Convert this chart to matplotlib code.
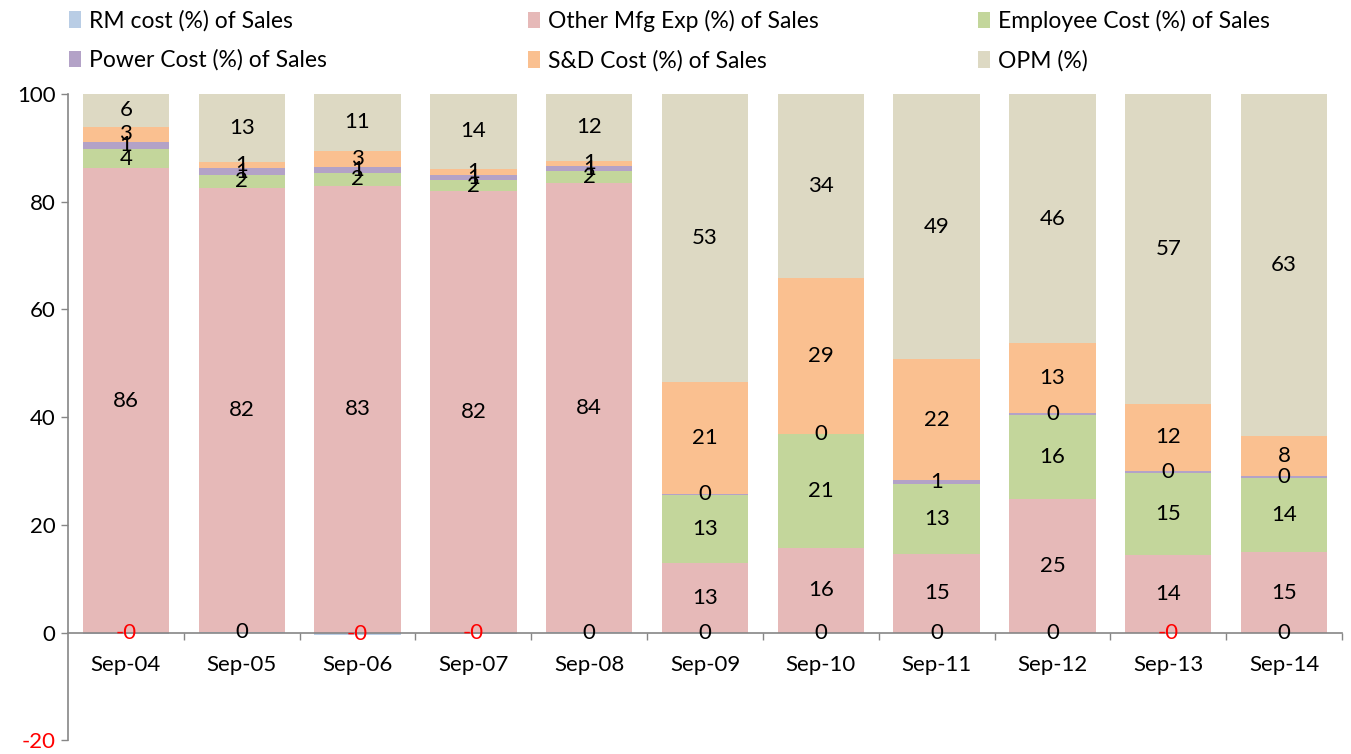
import numpy as np
import matplotlib
matplotlib.use('Agg')
from matplotlib import pyplot as plt
from matplotlib.patches import Patch

plt.rcParams['font.family'] = ['Lato', 'DejaVu Sans']
plt.rcParams['axes.unicode_minus'] = False

# years on the x axis
years = ['Sep-04', 'Sep-05', 'Sep-06', 'Sep-07', 'Sep-08', 'Sep-09',
         'Sep-10', 'Sep-11', 'Sep-12', 'Sep-13', 'Sep-14']

# cost shares, % of sales
rm_cost = [-0.2, 0.2, -0.4, -0.3, 0.05, 0.0, 0.0, 0.0, 0.0, -0.1, 0.0]
other_mfg = [86.2, 82.4, 83.0, 82.0, 83.5, 12.9, 15.8, 14.6, 24.9, 14.4, 14.9]
employee = [3.6, 2.4, 2.3, 2.0, 2.1, 12.7, 21.0, 13.0, 15.6, 15.3, 13.9]
power = [1.3, 1.2, 1.2, 0.9, 0.9, 0.1, 0.0, 0.7, 0.2, 0.4, 0.2]
sd_cost = [2.8, 1.2, 3.0, 1.2, 1.1, 20.9, 29.1, 22.5, 13.0, 12.4, 7.6]
opm = [6.1, 12.6, 10.6, 13.9, 12.4, 53.4, 34.1, 49.2, 46.3, 57.45, 63.4]

series_names = ['RM cost (%) of Sales', 'Other Mfg Exp (%) of Sales',
                'Employee Cost (%) of Sales', 'Power Cost (%) of Sales',
                'S&D Cost (%) of Sales', 'OPM (%)']
colors = ['#b9cde5', '#e6b9b8', '#c3d69b', '#b3a2c7', '#fac090', '#ddd9c3']
series = [rm_cost, other_mfg, employee, power, sd_cost, opm]

fig = plt.figure(figsize=(13.51, 7.54), dpi=100)
ax = fig.add_axes([68 / 1351, 1 - 740.4 / 754, (1342 - 68) / 1351, (740.4 - 94) / 754])

x = np.arange(len(years))
pos_bottom = np.zeros(len(years))
neg_bottom = np.zeros(len(years))
fs = 16
for vals, name, col in zip(series, series_names, colors):
    vals = np.array(vals, dtype=float)
    bottom = np.where(vals >= 0, pos_bottom, neg_bottom)
    ax.bar(x, vals, bottom=bottom, width=0.745, color=col, linewidth=0, label=name)
    for xi, b, v in zip(x, bottom, vals):
        txt = '%.0f' % v
        ax.text(xi, b + v / 2, txt, ha='center', va='center', fontsize=fs,
                color='red' if v < 0 else 'black')
    pos_bottom = np.where(vals >= 0, pos_bottom + vals, pos_bottom)
    neg_bottom = np.where(vals < 0, neg_bottom + vals, neg_bottom)

ax.set_ylim(-20, 100)
ax.set_xlim(-0.5, len(years) - 0.5)
ax.set_yticks([-20, 0, 20, 40, 60, 80, 100])
ax.tick_params(axis='y', direction='out', length=5, width=1, color='#868686',
               labelsize=fs, pad=4)
for lbl in ax.get_yticklabels():
    if lbl.get_text().startswith('-'):
        lbl.set_color('red')

ax.set_xticks(x)
ax.set_xticklabels(years)
ax.set_xticks(np.arange(0.5, len(years) - 0.5 + 1, 1), minor=True)
ax.tick_params(axis='x', which='major', length=0, labelsize=fs, pad=16)
ax.tick_params(axis='x', which='minor', direction='out', length=5, width=1, color='#868686')

for s in ['top', 'right']:
    ax.spines[s].set_visible(False)
ax.spines['bottom'].set_position(('data', 0))
ax.spines['left'].set_color('#868686')
ax.spines['bottom'].set_color('#868686')
ax.spines['left'].set_linewidth(1.2)
ax.spines['bottom'].set_linewidth(1.2)

# legend: three columns of two rows each
handles = [Patch(facecolor=c, edgecolor='none') for c in colors]
columns = [(0, 3), (1, 4), (2, 5)]
col_x = [55 / 1351, 514 / 1351, 964 / 1351]
for (i, j), cx in zip(columns, col_x):
    fig.legend([handles[i], handles[j]], [series_names[i], series_names[j]],
               loc='upper left', bbox_to_anchor=(cx, 1.005), frameon=False,
               fontsize=16.5, handlelength=0.55, handleheight=0.75,
               handletextpad=0.35, labelspacing=0.78, borderaxespad=0.2)

fig.savefig('out.png', dpi=100)
